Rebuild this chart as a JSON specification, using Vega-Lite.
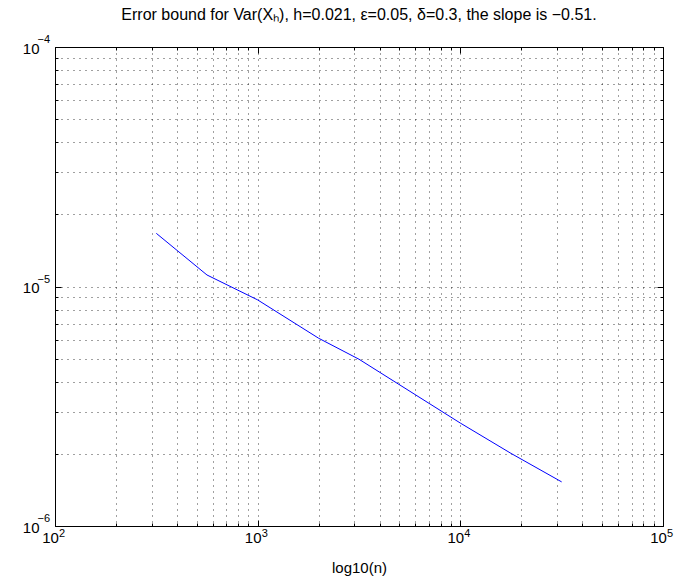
{
  "$schema": "https://vega.github.io/schema/vega-lite/v6.json",
  "width": 608,
  "height": 479,
  "autosize": "none",
  "padding": {"left": 55, "top": 47, "right": 12, "bottom": 56},
  "background": "white",
  "view": {"stroke": "black", "strokeWidth": 1},
  "config": {
    "font": "Liberation Sans",
    "axis": {
      "gridColor": "#000000",
      "gridDash": [1, 5],
      "gridOpacity": 0.75,
      "gridWidth": 1,
      "tickColor": "#000000",
      "tickWidth": 1,
      "domain": false,
      "labelFont": "Liberation Sans",
      "labelFontSize": 15,
      "labelColor": "#000000",
      "titleFont": "Liberation Sans",
      "titleFontSize": 15,
      "titleFontWeight": "normal",
      "titleColor": "#000000"
    },
    "text": {"font": "Liberation Sans", "color": "#000000"},
    "title": {"font": "Liberation Sans", "fontSize": 16, "fontWeight": "normal", "color": "#000000"}
  },
  "title": {"text": "Error bound for Var(Xₕ), h=0.021, ε=0.05, δ=0.3, the slope is −0.51.", "offset": 11, "anchor": "middle"},
  "datasets": {
    "err": [
      {"n": 316.2, "err": 1.667e-5},
      {"n": 562.3, "err": 1.117e-5},
      {"n": 1000, "err": 8.79e-6},
      {"n": 2000, "err": 6.08e-6},
      {"n": 3162, "err": 4.97e-6},
      {"n": 10000, "err": 2.69e-6},
      {"n": 17783, "err": 2.01e-6},
      {"n": 31623, "err": 1.528e-6}
    ],
    "xexp": [
      {"v": 100, "e": "2"},
      {"v": 1000, "e": "3"},
      {"v": 10000, "e": "4"},
      {"v": 100000, "e": "5"}
    ],
    "yexp": [
      {"v": 1e-6, "e": "−6"},
      {"v": 1e-5, "e": "−5"},
      {"v": 1e-4, "e": "−4"}
    ]
  },
  "data": {"name": "err"},
  "resolve": {"axis": {"x": "independent", "y": "independent"}},
  "layer": [
    {
      "mark": {"type": "line", "opacity": 0},
      "encoding": {
        "x": {"field": "n", "type": "quantitative", "scale": {"type": "log", "domain": [100, 100000], "nice": false},
          "axis": {"orient": "bottom", "values": [200,300,400,500,600,700,800,900,2000,3000,4000,5000,6000,7000,8000,9000,20000,30000,40000,50000,60000,70000,80000,90000], "labels": false, "ticks": true, "tickSize": -3, "grid": true, "title": null}},
        "y": {"field": "err", "type": "quantitative", "scale": {"type": "log", "domain": [1e-6, 1e-4], "nice": false},
          "axis": {"orient": "left", "values": [2e-6,3e-6,4e-6,5e-6,6e-6,7e-6,8e-6,9e-6,2e-5,3e-5,4e-5,5e-5,6e-5,7e-5,8e-5,9e-5], "labels": false, "ticks": true, "tickSize": -3, "grid": true, "title": null}}
      }
    },
    {
      "mark": {"type": "line", "opacity": 0},
      "encoding": {
        "x": {"field": "n", "type": "quantitative",
          "axis": {"orient": "top", "values": [200,300,400,500,600,700,800,900,2000,3000,4000,5000,6000,7000,8000,9000,20000,30000,40000,50000,60000,70000,80000,90000], "labels": false, "ticks": true, "tickSize": -3, "grid": false, "title": null}},
        "y": {"field": "err", "type": "quantitative",
          "axis": {"orient": "right", "values": [2e-6,3e-6,4e-6,5e-6,6e-6,7e-6,8e-6,9e-6,2e-5,3e-5,4e-5,5e-5,6e-5,7e-5,8e-5,9e-5], "labels": false, "ticks": true, "tickSize": -3, "grid": false, "title": null}}
      }
    },
    {
      "mark": {"type": "line", "opacity": 0},
      "encoding": {
        "x": {"field": "n", "type": "quantitative",
          "axis": {"orient": "top", "values": [100, 1000, 10000, 100000], "labels": false, "ticks": true, "tickSize": -6, "grid": false, "title": null}},
        "y": {"field": "err", "type": "quantitative",
          "axis": {"orient": "right", "values": [1e-6, 1e-5, 1e-4], "labels": false, "ticks": true, "tickSize": -6, "grid": false, "title": null}}
      }
    },
    {
      "mark": {"type": "line", "opacity": 0},
      "encoding": {
        "x": {"field": "n", "type": "quantitative",
          "axis": {"orient": "bottom", "values": [100, 1000, 10000, 100000], "labels": false, "ticks": true, "tickSize": -6, "grid": false, "title": null}},
        "y": {"field": "err", "type": "quantitative",
          "axis": {"orient": "left", "values": [1e-6, 1e-5, 1e-4], "labels": false, "ticks": true, "tickSize": -6, "grid": false, "title": null}}
      }
    },
    {
      "mark": {"type": "line", "color": "#0000ff", "strokeWidth": 1},
      "encoding": {
        "x": {"field": "n", "type": "quantitative",
          "axis": {"orient": "bottom", "values": [100, 1000, 10000, 100000], "labelExpr": "'10'", "labelOffset": -5, "ticks": false, "labelPadding": 4, "labelFlush": false, "labelOverlap": false, "grid": true, "title": "log10(n)", "titlePadding": 15}},
        "y": {"field": "err", "type": "quantitative",
          "axis": {"orient": "left", "values": [1e-6, 1e-5, 1e-4], "labelExpr": "'10'", "labelOffset": 1, "ticks": false, "labelPadding": 16, "labelFlush": false, "labelOverlap": false, "grid": true, "title": null}}
      }
    },
    {
      "data": {"name": "xexp"},
      "mark": {"type": "text", "fontSize": 11, "align": "left", "baseline": "alphabetic", "dx": 4, "dy": 11},
      "encoding": {
        "x": {"field": "v", "type": "quantitative", "axis": null},
        "y": {"datum": 1e-6, "type": "quantitative", "axis": null},
        "text": {"field": "e"}
      }
    },
    {
      "data": {"name": "yexp"},
      "mark": {"type": "text", "fontSize": 11, "align": "right", "baseline": "alphabetic", "dx": -5, "dy": -4},
      "encoding": {
        "x": {"datum": 100, "type": "quantitative", "axis": null},
        "y": {"field": "v", "type": "quantitative", "axis": null},
        "text": {"field": "e"}
      }
    }
  ]
}
